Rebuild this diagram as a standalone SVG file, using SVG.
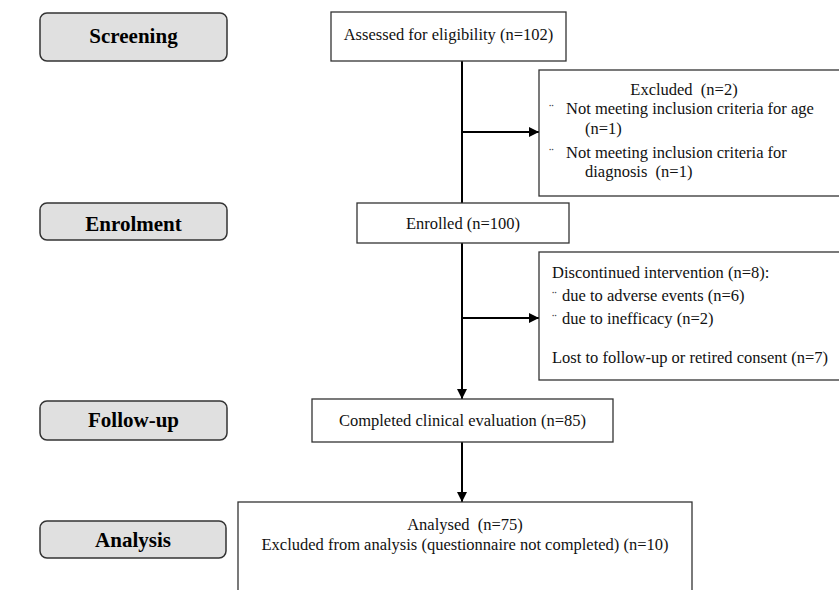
<svg xmlns="http://www.w3.org/2000/svg" width="839" height="590" viewBox="0 0 839 590">
<defs>
<marker id="ah" viewBox="0 0 10 10" refX="10" refY="5" markerWidth="10" markerHeight="10" markerUnits="userSpaceOnUse" orient="auto">
<path d="M0,0 L10,5 L0,10 Z" fill="#000"/>
</marker>
<style>
.stage{fill:#e0e0e0;stroke:#333;stroke-width:1.5}
.box{fill:#fff;stroke:#333;stroke-width:1.3}
.lbl{font-family:"Liberation Serif","Times New Roman",serif;font-weight:bold;font-size:21px;fill:#000;text-anchor:middle}
.t{font-family:"Liberation Serif","Times New Roman",serif;font-size:16.5px;fill:#111}
.c{text-anchor:middle}
.b{font-size:14px;fill:#444}
.ln{stroke:#000;stroke-width:2;fill:none}
</style>
</defs>
<rect width="839" height="590" fill="#fff"/>

<g id="stage-screening">
<rect class="stage" x="40" y="13" width="187" height="48" rx="7"/>
<text class="lbl" x="133.5" y="43">Screening</text>
</g>
<g id="stage-enrolment">
<rect class="stage" x="40" y="203" width="187" height="37" rx="7"/>
<text class="lbl" x="133.5" y="231">Enrolment</text>
</g>
<g id="stage-followup">
<rect class="stage" x="40" y="401" width="187" height="39" rx="7"/>
<text class="lbl" x="133.5" y="427">Follow-up</text>
</g>
<g id="stage-analysis">
<rect class="stage" x="40" y="521" width="186" height="37" rx="7"/>
<text class="lbl" x="133" y="547">Analysis</text>
</g>

<g id="connectors">
<line class="ln" x1="462" y1="61" x2="462" y2="203"/>
<line class="ln" x1="462" y1="132" x2="539" y2="132" marker-end="url(#ah)"/>
<line class="ln" x1="462" y1="243" x2="462" y2="399" marker-end="url(#ah)"/>
<line class="ln" x1="462" y1="318" x2="539" y2="318" marker-end="url(#ah)"/>
<line class="ln" x1="462" y1="442" x2="462" y2="502" marker-end="url(#ah)"/>
</g>

<g id="assessed">
<rect class="box" x="331" y="12" width="235" height="49"/>
<text class="t c" x="448.5" y="40">Assessed for eligibility (n=102)</text>
</g>
<g id="excluded">
<rect class="box" x="539" y="70" width="310" height="126"/>
<text class="t c" x="684" y="95" xml:space="preserve">Excluded  (n=2)</text>
<text class="t b" x="549" y="114">¨</text>
<text class="t" x="566" y="114">Not meeting inclusion criteria for age</text>
<text class="t" x="585" y="134">(n=1)</text>
<text class="t b" x="549" y="158">¨</text>
<text class="t" x="566" y="158">Not meeting inclusion criteria for</text>
<text class="t" x="585" y="177" xml:space="preserve">diagnosis  (n=1)</text>
</g>
<g id="enrolled">
<rect class="box" x="357" y="203" width="212" height="40"/>
<text class="t c" x="463" y="229">Enrolled (n=100)</text>
</g>
<g id="discontinued">
<rect class="box" x="539" y="252" width="310" height="128"/>
<text class="t" x="552" y="278">Discontinued intervention (n=8):</text>
<text class="t b" x="552" y="301">¨</text>
<text class="t" x="562" y="301">due to adverse events (n=6)</text>
<text class="t b" x="552" y="324">¨</text>
<text class="t" x="562" y="324">due to inefficacy (n=2)</text>
<text class="t" x="552" y="363">Lost to follow-up or retired consent (n=7)</text>
</g>
<g id="completed">
<rect class="box" x="312" y="399" width="301" height="43"/>
<text class="t c" x="462.5" y="426">Completed clinical evaluation (n=85)</text>
</g>
<g id="analysed">
<rect class="box" x="238" y="502" width="454" height="100"/>
<text class="t c" x="465" y="530" xml:space="preserve">Analysed  (n=75)</text>
<text class="t c" x="465" y="550">Excluded from analysis (questionnaire not completed) (n=10)</text>
</g>
</svg>
